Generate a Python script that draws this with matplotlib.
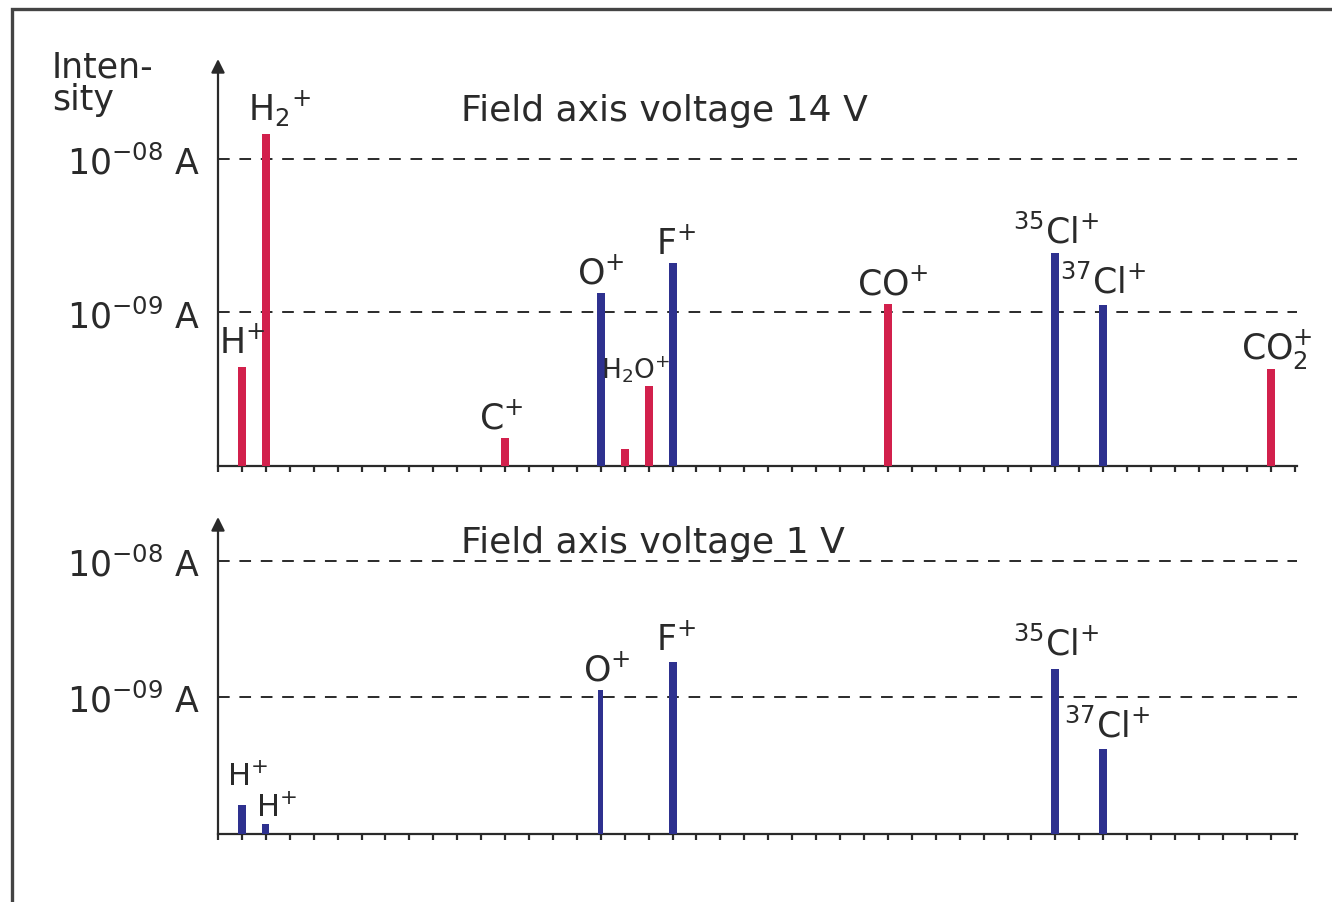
import numpy as np
import matplotlib
matplotlib.use('Agg')
import matplotlib.pyplot as plt
from matplotlib.patches import Rectangle

plt.rcParams['font.family'] = ['DejaVu Sans']
plt.rcParams['mathtext.default'] = 'regular'

RED = '#d2204c'
BLUE = '#2e318f'
INK = '#2a2a2a'
BASE = 1e-10
FS = 25

# field axis voltage 14 V
m14 = [1, 2, 12, 16, 17, 18, 19, 28, 35, 37, 44]
i14 = [4.4e-10, 1.45e-8, 1.52e-10, 1.33e-9, 1.29e-10, 3.33e-10, 2.09e-9,
       1.14e-9, 2.43e-9, 1.11e-9, 4.3e-10]
c14 = ['r', 'r', 'r', 'b', 'r', 'r', 'b', 'r', 'b', 'b', 'r']
lab14 = ['H$^{+}$', 'H$_2$$^{+}$', 'C$^{+}$', 'O$^{+}$', '', 'H$_2$O$^{+}$', 'F$^{+}$',
         'CO$^{+}$', '$^{35}$Cl$^{+}$', '$^{37}$Cl$^{+}$', 'CO$_2^{+}$']

# field axis voltage 1 V
m1 = [1, 2, 16, 19, 35, 37]
i1 = [1.63e-10, 1.18e-10, 1.14e-9, 1.83e-9, 1.6e-9, 4.17e-10]
lab1 = ['H$^{+}$', 'H$^{+}$', 'O$^{+}$', 'F$^{+}$', '$^{35}$Cl$^{+}$', '$^{37}$Cl$^{+}$']

fig = plt.figure(figsize=(13.32, 9.03), dpi=100)
fig.patches.append(Rectangle((12/1332, -0.5), 2, 0.5 + 1 - 10/903, transform=fig.transFigure,
                             fill=False, lw=2.4, edgecolor='#444444'))

ax1 = fig.add_axes([218/1332, 1 - 467/903, 1079/1332, 407/903])
ax2 = fig.add_axes([218/1332, 1 - 835/903, 1079/1332, 317/903])


def style(ax, ytop):
    ax.set_yscale('log')
    ax.set_xlim(0, 45.1)
    ax.set_ylim(BASE, ytop)
    for s in ['top', 'right', 'left']:
        ax.spines[s].set_visible(False)
    ax.spines['bottom'].set_linewidth(1.6)
    ax.spines['bottom'].set_color(INK)
    ax.set_xticks(np.arange(0, 46))
    ax.set_xticklabels([])
    ax.tick_params(axis='x', direction='out', length=4, width=1.6, color=INK)
    ax.yaxis.set_minor_locator(matplotlib.ticker.NullLocator())
    ax.set_yticks([1e-9, 1e-8], ['10$^{-09}$ A', '10$^{-08}$ A'])
    ax.tick_params(axis='y', length=0, pad=13, labelsize=FS, labelcolor=INK)
    for v in [1e-9, 1e-8]:
        ax.axhline(v, color=INK, lw=1.4, ls=(0, (6, 5)), zorder=1)
    ax.annotate('', xy=(0, 1.0), xytext=(0, 0), xycoords='axes fraction',
                arrowprops=dict(arrowstyle='-|>', color=INK, lw=1.6, mutation_scale=20,
                                shrinkA=0, shrinkB=0), annotation_clip=False)


style(ax1, 10**-7.35)
style(ax2, 10**-7.68)

cols = [RED if c == 'r' else BLUE for c in c14]
ax1.bar(m14, np.array(i14) - BASE, bottom=BASE, width=0.33, color=cols, zorder=3)
w1 = [0.33, 0.28, 0.22, 0.33, 0.33, 0.33]
ax2.bar(m1, np.array(i1) - BASE, bottom=BASE, width=w1, color=BLUE, zorder=3)

# label offsets in pixels relative to the bar top
off14 = [(0, 8), (14, 6), (-4, 3), (0, 3), (0, 0), (-13, 2), (3, 3),
         (5, 3), (1, 4), (0, 6), (6, -2)]
for m, v, t, o in zip(m14, i14, lab14, off14):
    if t:
        fs = 19 if t.startswith('H$_2$O') else FS
        ax1.annotate(t, xy=(m, v), xytext=o, textcoords='offset pixels',
                     ha='center', va='bottom', fontsize=fs, color=INK)

off1 = [(6, 14), (11, 2), (6, 3), (3, 5), (1, 8), (4, 6)]
fs1 = [22, 22, FS, FS, FS, FS]
for m, v, t, o, f in zip(m1, i1, lab1, off1, fs1):
    ax2.annotate(t, xy=(m, v), xytext=o, textcoords='offset pixels',
                 ha='center', va='bottom', fontsize=f, color=INK)

ax1.text(10.15, 10**-7.68, 'Field axis voltage 14 V', fontsize=FS + 1, color=INK, va='center')
ax2.text(10.15, 10**-7.86, 'Field axis voltage 1 V', fontsize=FS + 1, color=INK, va='center')
fig.text(52/1332, 1 - 50/903, 'Inten-\nsity', fontsize=FS, color=INK, va='top', ha='left',
         linespacing=0.95)

fig.savefig('out.png', dpi=100, facecolor='white')
